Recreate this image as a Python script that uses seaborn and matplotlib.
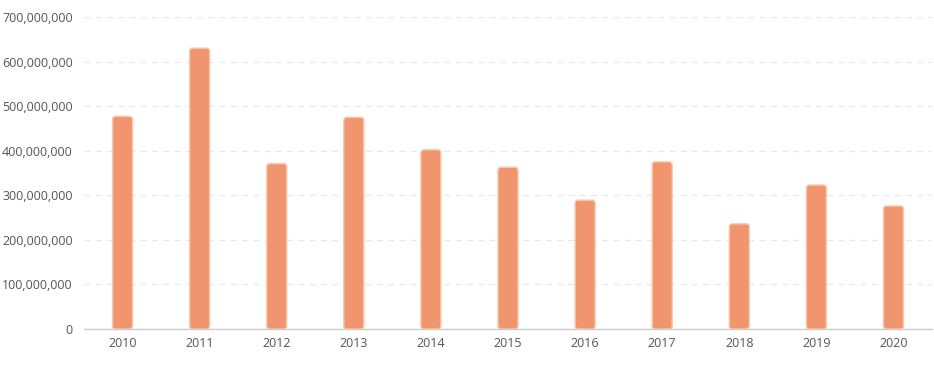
import matplotlib
matplotlib.use("Agg")
import matplotlib.pyplot as plt
import seaborn as sns
import pandas as pd
from matplotlib.ticker import FuncFormatter
from matplotlib.patches import FancyBboxPatch

years = ["2010", "2011", "2012", "2013", "2014", "2015", "2016", "2017", "2018", "2019", "2020"]
values = [477e6, 630e6, 371e6, 475e6, 402e6, 363e6, 289e6, 375e6, 236e6, 323e6, 276e6]
y_ticks = [0, 100e6, 200e6, 300e6, 400e6, 500e6, 600e6, 700e6]

df = pd.DataFrame({"year": years, "value": values})

sns.set_theme(style="white")
plt.rcParams['font.family'] = ['Open Sans', 'DejaVu Sans']

fig = plt.figure(figsize=(9.34, 3.67), dpi=100)
ax = fig.add_axes([84/934, 1-329/367, (932-84)/934, (329-17)/367])

sns.barplot(data=df, x="year", y="value", color="#F0956E", saturation=1,
            width=0.26, edgecolor="#F8C9B0", linewidth=1, ax=ax)

# round the bar tops
px_x = 1 / 77.1
px_y = 700e6 / 312
for p in list(ax.patches):
    x0, y0 = p.get_x(), p.get_y()
    w, h = p.get_width(), p.get_height()
    r = 3 * px_x
    fb = FancyBboxPatch((x0, y0), w, h,
                        boxstyle=f"round,pad=0,rounding_size={r}",
                        mutation_aspect=px_y / px_x,
                        facecolor=p.get_facecolor(), edgecolor=p.get_edgecolor(),
                        linewidth=1, zorder=p.get_zorder())
    p.set_visible(False)
    ax.add_patch(fb)

ax.set_ylim(0, 700e6)
ax.set_yticks(y_ticks)
ax.yaxis.set_major_formatter(FuncFormatter(lambda v, p: f"{int(v):,}"))
ax.set_xlim(-0.5, len(years) - 0.5)
ax.set_xlabel("")
ax.set_ylabel("")
ax.grid(axis="y", color="#E8E8E8", linestyle=(0, (5, 4)), linewidth=0.9)
ax.set_axisbelow(True)
for s in ["top", "right", "left"]:
    ax.spines[s].set_visible(False)
ax.spines["bottom"].set_color("#CCCCCC")
ax.spines["bottom"].set_linewidth(1)
ax.spines["bottom"].set_zorder(5)
ax.tick_params(axis="both", length=0, labelsize=9, colors="#555555")
ax.tick_params(axis="y", pad=8)
ax.tick_params(axis="x", pad=6)

fig.savefig("out.png", dpi=100)
